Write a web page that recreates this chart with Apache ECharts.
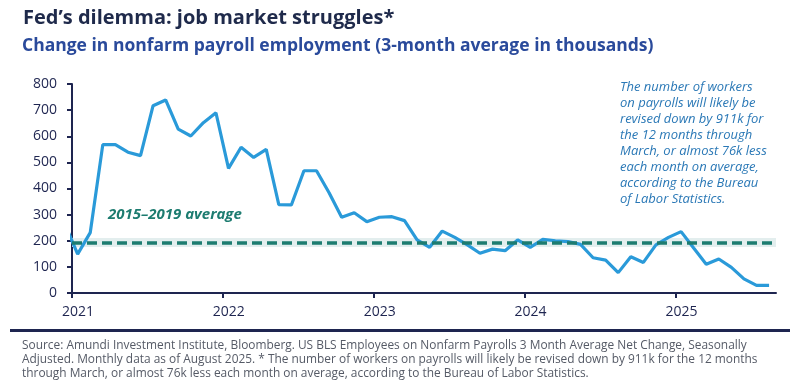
<!DOCTYPE html>
<html>
<head>
<meta charset="utf-8">
<script src="https://cdn.jsdelivr.net/npm/echarts@6/dist/echarts.min.js"></script>
<style>
html,body{margin:0;padding:0;background:#fff;}
#chart{width:800px;height:385px;}
</style>
</head>
<body>
<div id="chart"></div>
<script>
// Month labels (first point Dec 2020 is clipped by the axis)
const months = [
 '2020-12',
 '2021-01','2021-02','2021-03','2021-04','2021-05','2021-06','2021-07','2021-08','2021-09','2021-10','2021-11','2021-12',
 '2022-01','2022-02','2022-03','2022-04','2022-05','2022-06','2022-07','2022-08','2022-09','2022-10','2022-11','2022-12',
 '2023-01','2023-02','2023-03','2023-04','2023-05','2023-06','2023-07','2023-08','2023-09','2023-10','2023-11','2023-12',
 '2024-01','2024-02','2024-03','2024-04','2024-05','2024-06','2024-07','2024-08','2024-09','2024-10','2024-11','2024-12',
 '2025-01','2025-02','2025-03','2025-04','2025-05','2025-06','2025-07','2025-08'
];
// 3-month average nonfarm payroll change (thousands)
const payrolls = [
 262,
 149, 231, 568, 568, 539, 526, 717, 739, 627, 601, 652, 690,
 477, 558, 519, 550, 338, 337, 468, 468, 384, 290, 307, 273,
 290, 292, 277, 203, 175, 237, 213, 184, 152, 168, 162, 203,
 175, 205, 200, 197, 186, 135, 126, 78, 139, 117, 184, 213,
 235, 172, 110, 130, 98, 54, 29, 29
];
const avg2015_2019 = 193;
const avgBand = [176, 211];
const yearLabels = ['2021','2022','2023','2024','2025'];
const yTicks = [0,100,200,300,400,500,600,700,800];

const startYear = 2021;
function monthPos(m){
  const [y, mo] = m.split('-').map(Number);
  return (y - startYear) * 12 + (mo - 1) + 0.45;
}
const seriesData = months.map((m, i) => [monthPos(m), payrolls[i]]);

const navy = '#1e2550';
const font = '"Open Sans", "Noto Sans", sans-serif';

const chart = echarts.init(document.getElementById('chart'), null, {renderer:'canvas'});
chart.setOption({
  animation: false,
  backgroundColor: '#ffffff',
  grid: {left: 72, right: 24, top: 84, bottom: 92, containLabel: false},
  xAxis: {
    type: 'value', min: 0, max: 56, interval: 12,
    axisLine: {show: true, lineStyle: {color: navy, width: 2}},
    axisTick: {show: true, length: 5, lineStyle: {color: navy, width: 2}},
    splitLine: {show: false},
    axisLabel: {
      color: navy, fontSize: 14, fontFamily: font, margin: 12,
      padding: [0, 0, 0, 12],
      formatter: v => yearLabels[Math.round(v / 12)] || '',
      showMaxLabel: false
    }
  },
  yAxis: {
    type: 'value', min: 0, max: 800, interval: 100,
    axisLine: {show: true, lineStyle: {color: navy, width: 2}},
    axisTick: {show: true, length: 5, lineStyle: {color: navy, width: 2}},
    splitLine: {show: false},
    axisLabel: {color: navy, fontSize: 14, fontFamily: font, margin: 15,
      formatter: v => yTicks.includes(v) ? String(v) : ''}
  },
  series: [
    {
      type: 'line', data: [], z: 1, silent: true,
      markArea: {
        silent: true,
        itemStyle: {color: '#e3eeee'},
        data: [[{yAxis: avgBand[0]}, {yAxis: avgBand[1]}]]
      },
      markLine: {
        silent: true, symbol: ['none','none'],
        label: {show: false},
        lineStyle: {color: '#1d7c70', width: 3.5, type: [10, 5]},
        data: [{yAxis: avg2015_2019}]
      }
    },
    {
      type: 'line', data: seriesData, z: 3, clip: true,
      showSymbol: false, symbol: 'none',
      lineStyle: {color: '#2a9ad9', width: 3.2},
      silent: true
    }
  ],
  graphic: [
    {type: 'text', left: 23, top: 8, style: {text: 'Fed’s dilemma: job market struggles*', fill: '#1f2a4b', font: 'bold 20px ' + font}},
    {type: 'text', left: 22, top: 37, style: {text: 'Change in nonfarm payroll employment (3-month average in thousands)', fill: '#2a4a9b', font: 'bold 17.5px ' + font}},
    {type: 'text', left: 108, top: 207, style: {text: '2015–2019 average', fill: '#1d7c70', font: 'italic bold 15px ' + font}},
    {type: 'text', left: 620, top: 79, style: {
      text: 'The number of workers\non payrolls will likely be\nrevised down by 911k for\nthe 12 months through\nMarch, or almost 76k less\neach month on average,\naccording to the Bureau\nof Labor Statistics.',
      fill: '#2a78b6', font: 'italic 13px ' + font, lineHeight: 16}},
    {type: 'rect', shape: {x: 10, y: 329, width: 780, height: 3}, style: {fill: navy}},
    {type: 'text', left: 22, top: 339, style: {
      text: 'Source: Amundi Investment Institute, Bloomberg. US BLS Employees on Nonfarm Payrolls 3 Month Average Net Change, Seasonally\nAdjusted. Monthly data as of August 2025. * The number of workers on payrolls will likely be revised down by 911k for the 12 months\nthrough March, or almost 76k less each month on average, according to the Bureau of Labor Statistics.',
      fill: '#555a66', font: '11.9px ' + font, lineHeight: 14}}
  ]
});
</script>
</body>
</html>
